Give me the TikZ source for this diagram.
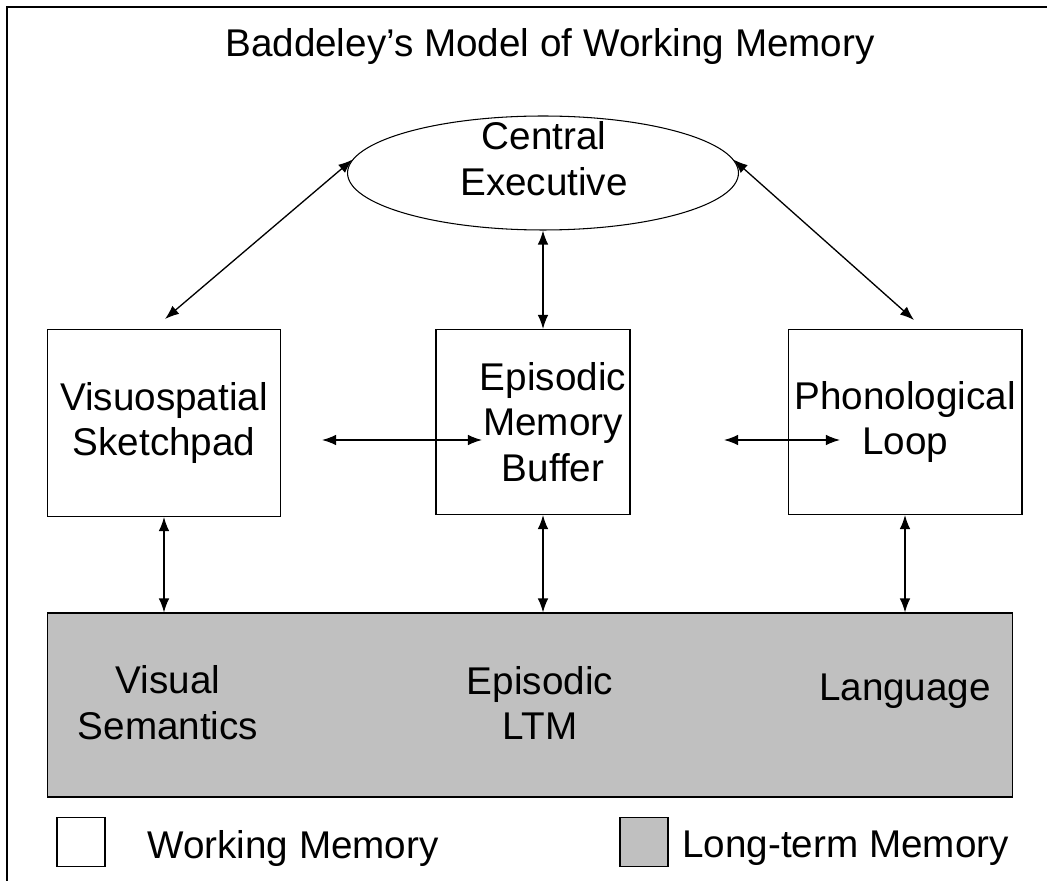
\documentclass[tikz,border=0pt]{standalone}
\usepackage{fontspec}
\setmainfont{Liberation Sans}
\usetikzlibrary{shapes.geometric,arrows.meta}

\tikzset{
  wmbox/.style={rectangle, draw, line width=0.6pt, fill=white, align=center, font=\fontsize{22}{26}\selectfont},
  ltmbox/.style={rectangle, draw, line width=0.6pt, fill=ltmgray},
  txt/.style={align=center, font=\fontsize{22}{26}\selectfont},
  link/.style={{Latex[length=8pt,width=6pt]}-{Latex[length=8pt,width=6pt]}, line width=0.75pt},
}
\definecolor{ltmgray}{HTML}{C0C0C0}

\begin{document}
\begin{tikzpicture}[x=0.02cm, y=-0.02cm]
				\useasboundingbox (0,0) rectangle (1047,881);
				\draw[line width=1.2pt] (7,881) -- (7,7) -- (1047,7);

				% Title
				\node[txt] (title) at (550,47) {Baddeley’s Model of Working Memory};

				% Nodes
				\node[ellipse, draw, line width=0.6pt, inner sep=0pt, minimum width=7.82cm, minimum height=2.28cm] (ce) at (543,173) {};
				\node[txt] (cetext) at (544,159) {Central\\Executive};
				\node[wmbox, minimum width=4.66cm, minimum height=3.74cm] (vs) at (164,423) {Visuospatial\\Sketchpad};
				\node[wmbox, minimum width=3.88cm, minimum height=3.7cm] (emb) at (533,422) {};
				\node[txt] (embtext) at (553,422) {Episodic\\Memory\\Buffer};
				\node[wmbox, minimum width=4.68cm, minimum height=3.7cm] (pl) at (905,422) {Phonological\\Loop};
				\node[ltmbox, minimum width=19.3cm, minimum height=3.68cm] (ltm) at (530,705) {};
				\node[txt] (vsem) at (168,703) {Visual\\Semantics};
				\node[txt] (eltm) at (540,703) {Episodic\\LTM};
				\node[txt] (lang) at (905,691) {Language};

				% Free ends
				\coordinate (vsup) at (165,319);
				\coordinate (plup) at (914,320);
				\coordinate (hl1) at (322,440);
				\coordinate (hl2) at (482,440);
				\coordinate (hr1) at (724,440);
				\coordinate (hr2) at (840,440);

				% Directed edges
				\draw[link] (ce.176) -- (vsup);
				\draw[link] (ce.4) -- (plup);
				\draw[link] (ce.south) -- (ce.south |- emb.north);
				\draw[link] (hl1) -- (hl2);
				\draw[link] (hr1) -- (hr2);
				\draw[link] (vs.south) -- (vs.south |- ltm.north);
				\draw[link] (emb.south -| ce.south) -- (ce.south |- ltm.north);
				\draw[link] (pl.south) -- (pl.south |- ltm.north);

				% Legend
				\node[wmbox, minimum width=0.96cm, minimum height=0.98cm] (wmkey) at (81,842) {};
				\node[txt, anchor=west, inner sep=0pt] (wmlabel) at (147,848) {Working Memory};
				\node[ltmbox, minimum width=0.96cm, minimum height=0.98cm] (ltmkey) at (644,842) {};
				\node[txt, anchor=west, inner sep=0pt] (ltmlabel) at (682,848) {Long-term Memory};
			\end{tikzpicture}
\end{document}
